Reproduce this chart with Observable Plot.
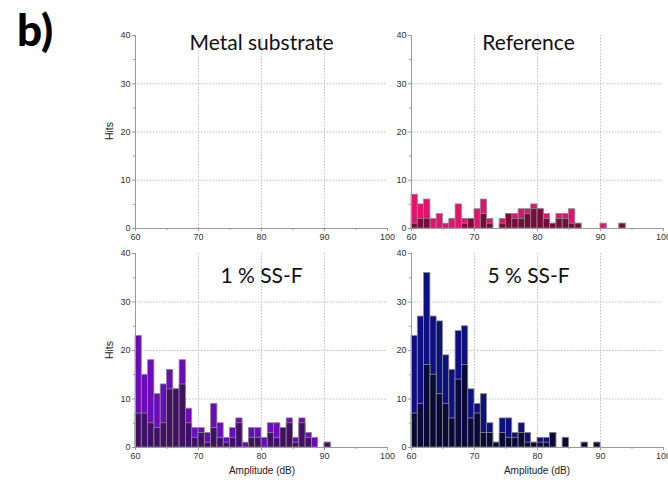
<!DOCTYPE html>
<html><head><meta charset="utf-8">
<script src="https://cdn.jsdelivr.net/npm/d3@7"></script>
<script src="https://cdn.jsdelivr.net/npm/@observablehq/plot@0.6"></script>
<style>
body{margin:0;background:#fff;}
#root{position:relative;width:668px;height:480px;overflow:hidden;font-family:Arial,"Liberation Sans",sans-serif;}
.abs{position:absolute;white-space:nowrap;}
.plot{position:absolute;}
</style></head><body><div id="root"></div>
<script>
// ---- data (hits per 1 dB amplitude bin, first bin starts at 60 dB) ----
const startBin = 60;
const titles = ["Metal substrate", "Reference", "1 % SS-F", "5 % SS-F"];
const metalTotals = [];
const metalDark = [];
const refTotals = [7,5,6,2,3,1,2,5,2,2,4,6,2,0,2,3,3,4,4,5,4,3,1,3,3,4,1,0,0,0,1,0,0,1];
const refDark   = [1,2,2,0,0,0,0,0,1,2,0,3,1,0,1,3,2,2,3,4,4,2,1,2,2,1,1,0,0,0,0,0,0,1];
const ss1Totals = [23,15,18,11,13,16,12,18,8,4,4,3,9,5,2,4,6,1,4,4,2,5,5,4,6,2,6,3,2,0,1];
const ss1Dark   = [7,7,5,4,5,12,12,13,5,2,3,1,4,2,1,2,5,0,2,2,0,3,2,4,5,1,5,2,0,0,1];
const ss5Totals = [23,27,36,27,26,19,16,24,25,12,9,11,5,1,6,6,3,5,3,1,2,2,3,0,2,0,0,1,0,1];
const ss5Dark   = [7,9,17,15,11,9,6,14,17,6,7,3,3,1,3,2,2,3,1,1,1,1,3,0,2,0,0,1,0,1];
const xTicks = [60,70,80,90,100];
const yTicks = [0,10,20,30,40];
const xMinor = [65,75,85,95];
const yMinor = [5,15,25,35];
const xLabel = "Amplitude (dB)";
const yLabel = "Hits";
const panelTag = "b)";

const root = document.getElementById("root");
const ML = 38, MT = 10, MB = 24, MR = 4, PW = 252;

function panel({title, totals, darks, bright, deep, left, top, ph, titleDy, titleDx}) {
  const rows = totals.map((t, i) => ({lo: startBin + i, hi: startBin + i + 1, total: t, dark: darks[i]}))
                     .filter(d => d.total > 0);
  const grid = {stroke: "#b0b0b0", strokeOpacity: 1, strokeDasharray: "1.5,1.5", strokeWidth: 0.8};
  const p = Plot.plot({
    width: ML + PW + MR, height: MT + ph + MB,
    marginLeft: ML, marginRight: MR, marginTop: MT, marginBottom: MB,
    x: {domain: [60, 100]}, y: {domain: [0, 40]},
    style: {background: "transparent", fontFamily: "Arial, 'Liberation Sans', sans-serif", fontSize: "9px", color: "#333", overflow: "visible"},
    marks: [
      Plot.gridX(xTicks.slice(1, -1), grid),
      Plot.gridY(yTicks.slice(1, -1), grid),
      Plot.rect(rows, {x1: "lo", x2: "hi", y1: 0, y2: "total", fill: bright, stroke: "#8c8c8c", strokeWidth: 0.8}),
      Plot.rect(rows.filter(d => d.dark > 0), {x1: "lo", x2: "hi", y1: 0, y2: "dark", fill: deep, stroke: "#8c8c8c", strokeWidth: 0.8}),
      Plot.ruleX([60], {stroke: "#9a9a9a"}),
      Plot.ruleY([0], {stroke: "#9a9a9a"}),
      Plot.axisX(xTicks, {tickSize: 3, tickPadding: 2, stroke: "#9a9a9a", label: null}),
      Plot.axisX(xMinor, {tickSize: 2, tickFormat: () => "", stroke: "#9a9a9a", label: null}),
      Plot.axisY(yTicks, {tickSize: 3, tickPadding: 2, stroke: "#9a9a9a", label: null}),
      Plot.axisY(yMinor, {tickSize: 2, tickFormat: () => "", stroke: "#9a9a9a", label: null}),
      Plot.text([title], {frameAnchor: "top", lineAnchor: "top", dy: titleDy, dx: titleDx, fontSize: 21, fontFamily: "Lato, 'Open Sans', sans-serif", fill: "#111", text: d => d})
    ]
  });
  p.classList.add("plot");
  p.style.left = (left - ML) + "px";
  p.style.top = (top - MT) + "px";
  root.appendChild(p);
}

panel({title: titles[0], totals: metalTotals, darks: metalDark, bright: "#999", deep: "#555", left: 135, top: 35, ph: 193, titleDy: 0, titleDx: 0});
panel({title: titles[1], totals: refTotals, darks: refDark, bright: "#e6106e", deep: "#7a0a3c", left: 411, top: 35, ph: 193, titleDy: 0, titleDx: -9});
panel({title: titles[2], totals: ss1Totals, darks: ss1Dark, bright: "#6c0abc", deep: "#420f66", left: 135, top: 253, ph: 194, titleDy: 15, titleDx: 0});
panel({title: titles[3], totals: ss5Totals, darks: ss5Dark, bright: "#0f0f84", deep: "#0a0a38", left: 411, top: 253, ph: 194, titleDy: 15, titleDx: -9});

function label(text, cx, cy, rot, size) {
  const d = document.createElement("div");
  d.className = "abs";
  d.textContent = text;
  d.style.fontSize = size + "px";
  d.style.color = "#222";
  d.style.left = cx + "px";
  d.style.top = cy + "px";
  d.style.transform = `translate(-50%,-50%) rotate(${rot}deg)`;
  root.appendChild(d);
}
label(yLabel, 109, 131, -90, 10.5);
label(yLabel, 109, 350, -90, 10.5);
label(xLabel, 262, 470, 0, 10);
label(xLabel, 537, 470, 0, 10);

const tag = document.createElement("div");
tag.className = "abs";
tag.textContent = panelTag;
tag.style.cssText += "left:17px;top:7px;font:900 44px Lato,'Open Sans',sans-serif;color:#000;line-height:1;";
root.appendChild(tag);
</script>
</body></html>
